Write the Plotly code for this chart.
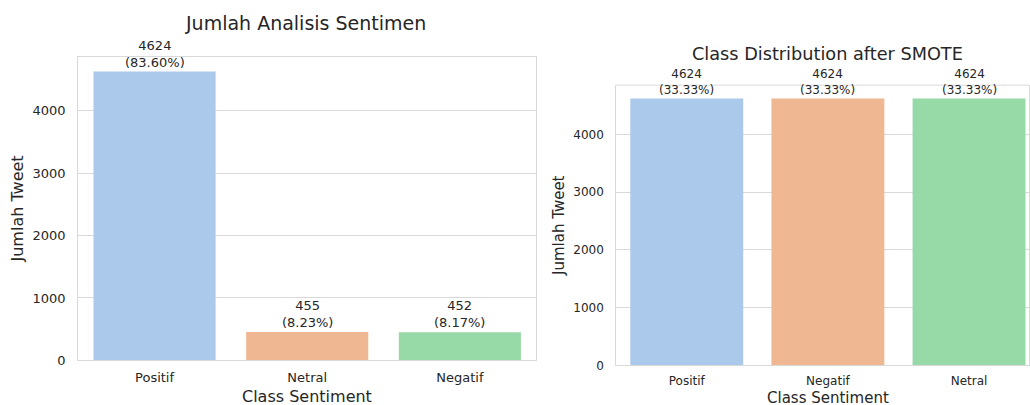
import plotly.graph_objects as go

# ---- data ----
left_categories = ["Positif", "Netral", "Negatif"]
left_counts = [4624, 455, 452]
right_categories = ["Positif", "Negatif", "Netral"]
right_counts = [4624, 4624, 4624]
y_ticks = [0, 1000, 2000, 3000, 4000]

left_title = "Jumlah Analisis Sentimen"
right_title = "Class Distribution after SMOTE"
x_label = "Class Sentiment"
y_label = "Jumlah Tweet"

color_map = {"Positif": "#abc9ea", "Netral": "#efb792", "Negatif": "#98daa7"}
right_color_map = {"Positif": "#abc9ea", "Negatif": "#efb792", "Netral": "#98daa7"}

W, H = 1030, 413
FONT = "DejaVu Sans"
TXT = "#262626"
GRID = "#d9d9d9"
VS = 0.981  # observed vertical scale of the captured page


def px_x(p):
    return p / W


def px_y(p):
    return 1 - ((p + 0.6) / VS) / H


fig = go.Figure()
fig.add_trace(go.Bar(x=left_categories, y=left_counts, width=0.8,
                     marker=dict(color=[color_map[c] for c in left_categories], line=dict(width=0)),
                     xaxis="x", yaxis="y", showlegend=False, hoverinfo="x+y"))
fig.add_trace(go.Bar(x=right_categories, y=right_counts, width=0.8,
                     marker=dict(color=[right_color_map[c] for c in right_categories], line=dict(width=0)),
                     xaxis="x2", yaxis="y2", showlegend=False, hoverinfo="x+y"))

ymax = max(left_counts) * 1.05
ymax2 = max(right_counts) * 1.05

common_y = dict(tickvals=y_ticks, showgrid=True, gridcolor=GRID, gridwidth=1,
                zeroline=False, showline=True, linecolor=GRID, linewidth=1, mirror=True,
                ticks="", color=TXT)
common_x = dict(showgrid=False, zeroline=False, showline=True, linecolor=GRID, linewidth=1,
                ticks="", color=TXT, type="category")

fig.update_layout(
    width=W, height=H, autosize=False, margin=dict(l=0, r=0, t=0, b=0, pad=0),
    paper_bgcolor="white", plot_bgcolor="white",
    font=dict(family=FONT, color=TXT),
    bargap=0.2,
    xaxis=dict(domain=[px_x(78.3), px_x(536.7)], range=[-0.5, 2.5], anchor="y", mirror=True,
               tickfont=dict(size=13), ticklabelstandoff=5, **common_x),
    yaxis=dict(domain=[px_y(360), px_y(56.5)], range=[0, ymax], anchor="x",
               tickfont=dict(size=13), ticklabelstandoff=9, **common_y),
    xaxis2=dict(domain=[px_x(616.8), 1.0], range=[-0.5, 2.425], anchor="y2", mirror=False,
                tickfont=dict(size=12), ticklabelstandoff=4, **common_x),
    yaxis2=dict(domain=[px_y(365), px_y(84.6)], range=[0, ymax2], anchor="x2",
                tickfont=dict(size=12), ticklabelstandoff=9, **common_y),
)

# top border for right axes (its right edge is cut off in the reference)
fig.add_shape(type="line", xref="x2 domain", yref="y2 domain", x0=0, x1=1, y0=1, y1=1,
              line=dict(color=GRID, width=1), layer="above")

annotations = []
tot_l = sum(left_counts)
for c, v in zip(left_categories, left_counts):
    annotations.append(dict(x=c, y=v, xref="x", yref="y", yanchor="bottom", xanchor="center",
                            text=f"{v}<br>({v / tot_l * 100:.2f}%)", showarrow=False,
                            font=dict(size=13, color=TXT), yshift=0))
tot_r = sum(right_counts)
for c, v in zip(right_categories, right_counts):
    annotations.append(dict(x=c, y=v, xref="x2", yref="y2", yanchor="bottom", xanchor="center",
                            text=f"{v}<br>({v / tot_r * 100:.2f}%)", showarrow=False,
                            font=dict(size=12, color=TXT), yshift=0))

annotations.append(dict(x=px_x(306), y=px_y(22), xref="paper", yref="paper", text=left_title,
                        showarrow=False, font=dict(size=19, color=TXT), xanchor="center", yanchor="middle"))
annotations.append(dict(x=px_x(828.5), y=px_y(53), xref="paper", yref="paper", text=right_title,
                        showarrow=False, font=dict(size=17.7, color=TXT), xanchor="center", yanchor="middle"))
annotations.append(dict(x=px_x(307.5), y=px_y(396), xref="paper", yref="paper", text=x_label,
                        showarrow=False, font=dict(size=16, color=TXT), xanchor="center", yanchor="middle"))
annotations.append(dict(x=px_x(828.5), y=px_y(398), xref="paper", yref="paper", text=x_label,
                        showarrow=False, font=dict(size=15, color=TXT), xanchor="center", yanchor="middle"))
annotations.append(dict(x=px_x(18), y=px_y(208), xref="paper", yref="paper", text=y_label, textangle=-90,
                        showarrow=False, font=dict(size=16, color=TXT), xanchor="center", yanchor="middle"))
annotations.append(dict(x=px_x(559), y=px_y(225), xref="paper", yref="paper", text=y_label, textangle=-90,
                        showarrow=False, font=dict(size=15, color=TXT), xanchor="center", yanchor="middle"))

fig.update_layout(annotations=annotations)

css = ("var s=document.createElement('style');"
       "s.textContent='html,body{margin:0;padding:0;overflow:hidden;}';"
       "document.head.appendChild(s);")
fig.write_html("out.html",
               config={"responsive": False, "displayModeBar": False},
               post_script=css)
